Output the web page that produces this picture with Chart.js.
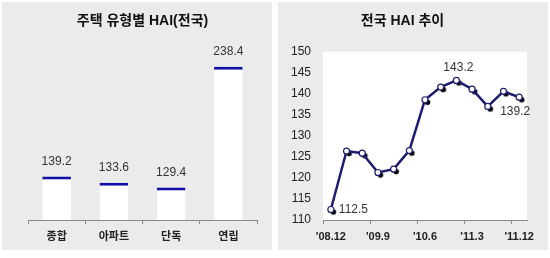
<!DOCTYPE html>
<html>
<head>
<meta charset="utf-8">
<script src="https://cdn.jsdelivr.net/npm/chart.js@4.4.0/dist/chart.umd.min.js"></script>
<style>
body { margin: 0; background: #fff; }
.panel { position: absolute; top: 2px; width: 270px; height: 248px; background: #ebebeb; }
#p1 { left: 2px; }
#p2 { left: 278px; }
</style>
</head>
<body>
<div class="panel" id="p1"><canvas id="barChart" width="270" height="248"></canvas></div>
<div class="panel" id="p2"><canvas id="lineChart" width="270" height="248"></canvas></div>
<script>
// left: HAI by housing type
var typeLabels = ['종합', '아파트', '단독', '연립'];
var typeValues = [139.2, 133.6, 129.4, 238.4];

// right: national HAI, quarterly
var quarterLabels = ["'08.12", "'09.3", "'09.6", "'09.9", "'09.12", "'10.3", "'10.6",
                     "'10.9", "'10.12", "'11.3", "'11.6", "'11.9", "'11.12"];
var haiValues = [112.5, 126.4, 125.9, 121.3, 122.1, 126.5, 138.6, 141.6, 143.2, 141.1, 137.0, 140.6, 139.2];
var haiTicks = [110, 115, 120, 125, 130, 135, 140, 145, 150];

var FONT = "'Liberation Sans', 'Noto Sans CJK KR', sans-serif";

var valueLabels = {
    id: 'valueLabels',
    afterDatasetsDraw: function (chart) {
        var ctx = chart.ctx;
        ctx.save();
        ctx.font = '12px ' + FONT;
        ctx.fillStyle = '#333';
        ctx.textAlign = 'center';
        ctx.textBaseline = 'middle';
        chart.getDatasetMeta(0).data.forEach(function (bar, i) {
            ctx.fillText(typeValues[i].toFixed(1), bar.x, bar.y - 15);
        });
        ctx.restore();
    }
};

new Chart(document.getElementById('barChart'), {
    type: 'bar',
    data: {
        labels: typeLabels,
        datasets: [{
            data: typeValues,
            backgroundColor: '#fff',
            borderColor: '#1010a8',
            borderWidth: { top: 3, left: 0, right: 0, bottom: 0 },
            borderSkipped: 'bottom',
            categoryPercentage: 1,
            barPercentage: 0.5
        }]
    },
    options: {
        responsive: false,
        animation: false,
        layout: { padding: { left: 26, right: 15, top: 0, bottom: 0 } },
        plugins: {
            legend: { display: false },
            tooltip: { enabled: false },
            title: {
                display: true,
                text: '주택 유형별 HAI(전국)',
                color: '#111',
                font: { family: FONT, size: 14, weight: 'bold' },
                padding: { top: 11, bottom: 22 }
            }
        },
        scales: {
            y: { display: false, min: 100, max: 252 },
            x: {
                grid: { offset: true, drawOnChartArea: false, color: '#888', tickLength: 4 },
                border: { color: '#888' },
                ticks: { color: '#222', padding: 6, font: { family: FONT, size: 11, weight: 'bold' } },
                afterFit: function (s) { s.height = 30; }
            }
        }
    },
    plugins: [valueLabels]
});

// small black dot drawn off-centre, gives the shadow under each marker
var shadowDot = document.createElement('canvas');
shadowDot.width = 14;
shadowDot.height = 14;
var sctx = shadowDot.getContext('2d');
sctx.fillStyle = '#000';
sctx.beginPath();
sctx.arc(9.5, 9.5, 2.8, 0, Math.PI * 2);
sctx.fill();

var plotBg = {
    id: 'plotBg',
    beforeDraw: function (chart) {
        var a = chart.chartArea;
        chart.ctx.save();
        chart.ctx.fillStyle = '#fff';
        chart.ctx.fillRect(a.left, a.top, a.right - a.left, a.bottom - a.top);
        chart.ctx.restore();
    }
};

var pointLabels = {
    id: 'pointLabels',
    afterDatasetsDraw: function (chart) {
        var ctx = chart.ctx;
        var pts = chart.getDatasetMeta(0).data;
        ctx.save();
        ctx.font = '12px ' + FONT;
        ctx.fillStyle = '#333';
        ctx.textBaseline = 'middle';
        ctx.textAlign = 'left';
        ctx.fillText(haiValues[0].toFixed(1), pts[0].x + 8, pts[0].y);
        ctx.textAlign = 'center';
        ctx.fillText(haiValues[8].toFixed(1), pts[8].x + 2, pts[8].y - 13);
        ctx.fillText(haiValues[12].toFixed(1), pts[12].x - 4, pts[12].y + 14);
        ctx.restore();
    }
};

new Chart(document.getElementById('lineChart'), {
    type: 'line',
    data: {
        labels: quarterLabels,
        datasets: [{
            data: haiValues,
            borderColor: '#1c1c6e',
            borderWidth: 2.5,
            tension: 0,
            pointRadius: 3,
            pointBackgroundColor: '#fff',
            pointBorderColor: '#1c1c6e',
            pointBorderWidth: 1.2,
            order: 1
        }, {
            data: haiValues,
            showLine: false,
            pointStyle: shadowDot,
            order: 2
        }]
    },
    options: {
        responsive: false,
        animation: false,
        layout: { padding: { left: 0, right: 21, top: 0, bottom: 0 } },
        plugins: {
            legend: { display: false },
            tooltip: { enabled: false },
            title: {
                display: true,
                text: '전국 HAI 추이',
                color: '#111',
                font: { family: FONT, size: 14, weight: 'bold' },
                padding: { top: 11, bottom: 22 }
            }
        },
        scales: {
            x: {
                offset: true,
                grid: {
                    offset: true,
                    drawOnChartArea: false,
                    tickLength: 4,
                    color: function (c) { return (c.index % 3 === 0 && c.index < 13) ? '#888' : 'rgba(0,0,0,0)'; }
                },
                border: { color: '#888' },
                ticks: {
                    autoSkip: false,
                    maxRotation: 0,
                    padding: 6,
                    color: '#222',
                    font: { family: FONT, size: 11, weight: 'bold' },
                    callback: function (v, i) { return i % 3 === 0 ? this.getLabelForValue(v) : ''; }
                },
                afterFit: function (s) { s.height = 30; }
            },
            y: {
                min: haiTicks[0],
                max: haiTicks[haiTicks.length - 1],
                afterBuildTicks: function (s) { s.ticks = haiTicks.map(function (v) { return { value: v }; }); },
                grid: { display: false, drawTicks: false },
                border: { display: false },
                ticks: { padding: 12, color: '#222', font: { family: FONT, size: 12 } },
                afterFit: function (s) { s.width = 45; }
            }
        }
    },
    plugins: [plotBg, pointLabels]
});
</script>
</body>
</html>
